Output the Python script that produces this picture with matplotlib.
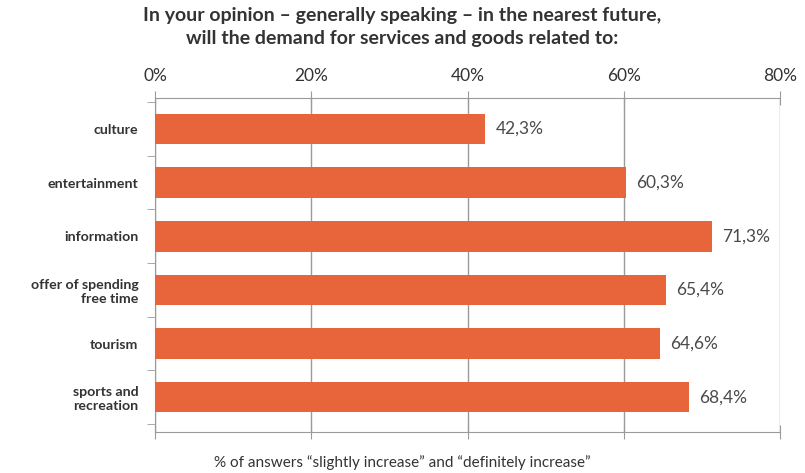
import matplotlib.pyplot as plt
from matplotlib.ticker import FixedLocator

categories = ["culture", "entertainment", "information",
              "offer of spending\nfree time", "tourism", "sports and\nrecreation"]
values = [42.3, 60.3, 71.3, 65.4, 64.6, 68.4]
value_labels = ["42,3%", "60,3%", "71,3%", "65,4%", "64,6%", "68,4%"]
ticks = [0, 20, 40, 60, 80]
tick_labels = ["0%", "20%", "40%", "60%", "80%"]

orange = "#E8643A"
grey = "#9a9a9a"
text_col = "#333333"
plt.rcParams['font.family'] = ['Lato', 'DejaVu Sans']

fig = plt.figure(figsize=(8.05, 4.73), dpi=100)
ax = fig.add_axes([0.1925, 0.0867, 0.7765, 0.7063])

y = list(range(len(categories)))
ax.barh(y, values, height=0.57, color=orange, zorder=3)
for yi, v, lab in zip(y, values, value_labels):
    ax.text(v + 1.3, yi, lab, va="center", ha="left", fontsize=12.5, color="#4a4a4a")

ax.set_xlim(0, 80)
ax.set_ylim(5.65, -0.58)
ax.set_xticks(ticks)
ax.set_xticklabels(tick_labels)
ax.set_yticks(y)
ax.set_yticklabels(categories, fontweight="bold", fontsize=10.2, color=text_col)
ax.yaxis.set_minor_locator(FixedLocator([i + 0.5 for i in range(-1, len(categories))]))

ax.tick_params(axis="x", top=True, bottom=True, labeltop=True, labelbottom=False,
               direction="inout", length=10, color=grey, labelsize=12.5, labelcolor=text_col, pad=5)
ax.tick_params(axis="y", which="major", length=0, pad=12)
ax.tick_params(axis="y", which="minor", length=6, color=grey, direction="out")

ax.grid(axis="x", color=grey, linewidth=1, zorder=0)
for s in ["top", "bottom", "left"]:
    ax.spines[s].set_color(grey)
ax.spines["right"].set_visible(False)

fig.text(0.5, 0.023, "% of answers \u201cslightly increase\u201d and \u201cdefinitely increase\u201d",
         ha="center", va="center", fontsize=11, color=text_col)

fig.text(0.5, 0.985, "In your opinion \u2013 generally speaking \u2013 in the nearest future,\n"
         "will the demand for services and goods related to:",
         ha="center", va="top", fontsize=14, fontweight="bold", color=text_col, linespacing=1.4)

fig.savefig("out.png", dpi=100)
